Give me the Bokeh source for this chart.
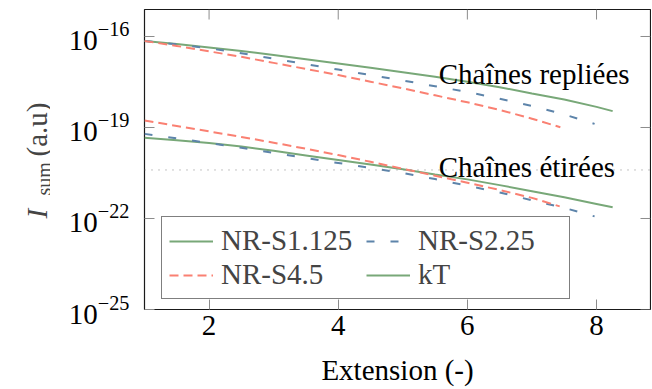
import math
from bokeh.plotting import figure
from bokeh.layouts import row
from bokeh.models import (FixedTicker, Span, Label, Legend, LegendItem, Range1d)
from bokeh.embed import file_html
from bokeh.resources import INLINE

# ---------------- data (x = extension, values = log10 of I_sum) ----------------
ext_top_g = [1.0, 1.5, 2.0, 2.5, 3.0, 3.5, 4.0, 4.5, 5.0, 5.5, 6.0, 6.5, 7.0, 7.5, 8.0, 8.25]
log_top_g = [-16.15, -16.25, -16.36, -16.48, -16.61, -16.75, -16.89, -17.03, -17.18,
             -17.33, -17.49, -17.67, -17.88, -18.08, -18.32, -18.46]

ext_top_b = [1.0, 1.5, 2.0, 2.5, 3.0, 3.5, 4.0, 4.5, 5.0, 5.5, 6.0, 6.5, 7.0, 7.5, 7.97]
log_top_b = [-16.15, -16.26, -16.39, -16.55, -16.73, -16.91, -17.09, -17.27, -17.45,
             -17.64, -17.83, -18.05, -18.29, -18.57, -18.88]

ext_top_r = [1.0, 1.5, 2.0, 2.5, 3.0, 3.5, 4.0, 4.5, 5.0, 5.5, 6.0, 6.5, 7.0, 7.44]
log_top_r = [-16.15, -16.31, -16.49, -16.67, -16.87, -17.07, -17.27, -17.49, -17.71,
             -17.94, -18.17, -18.42, -18.71, -18.99]

ext_low_g = [1.0, 1.5, 2.0, 2.5, 3.0, 3.5, 4.0, 4.5, 5.0, 5.5, 6.0, 6.5, 7.0, 7.5, 8.0, 8.25]
log_low_g = [-19.34, -19.42, -19.51, -19.63, -19.77, -19.92, -20.07, -20.22, -20.38,
             -20.55, -20.71, -20.90, -21.10, -21.30, -21.52, -21.63]

ext_low_b = [1.0, 1.5, 2.0, 2.5, 3.0, 3.5, 4.0, 4.5, 5.0, 5.5, 6.0, 6.5, 7.0, 7.5, 7.97]
log_low_b = [-19.21, -19.36, -19.51, -19.67, -19.84, -20.01, -20.17, -20.33, -20.50,
             -20.70, -20.92, -21.14, -21.40, -21.65, -21.93]

ext_low_r = [1.0, 1.5, 2.0, 2.5, 3.0, 3.5, 4.0, 4.5, 5.0, 5.5, 6.0, 6.5, 7.0, 7.43]
log_low_r = [-18.77, -18.95, -19.13, -19.31, -19.50, -19.70, -19.91, -20.13, -20.36,
             -20.59, -20.82, -21.06, -21.32, -21.60]

legend_labels = ["NR-S1.125", "NR-S2.25", "NR-S4.5", "kT"]
x_ticks = [2, 4, 6, 8]
y_tick_exps = [-25, -22, -19, -16]
threshold_exp = -20.4
text_top = "Chaînes repliées"
text_low = "Chaînes étirées"
x_title = "Extension (-)"
y_title_parts = ["I", "sum", "(a.u)"]

# ---------------- styling ----------------
GREEN = "#78a878"
BLUE = "#5d84aa"
RED = "#fa8072"
TICK = "#8c8c8c"
DASH_B = "8 16"
DASH_R = "9 5"
FONT = "Liberation Serif"
FS = "29px"
X0, X1 = 1.0, 8.836
Y0, Y1 = 1e-25, 10 ** -15.11
TOP, FRAME_H, BOTTOM = 9, 300, 78
TITLE_W = 50

def pw(vals):
    return [10.0 ** v for v in vals]

y_ticks = [10.0 ** e for e in y_tick_exps]

# ---------------- narrow figure holding the rotated y-axis title ----------------
t = figure(frame_width=TITLE_W, frame_height=FRAME_H, x_axis_type=None,
           y_axis_type=None, output_backend="svg", toolbar_location=None,
           min_border_left=0, min_border_right=0, min_border_top=TOP,
           min_border_bottom=BOTTOM, outline_line_color=None)
t.grid.visible = False
t.border_fill_color = "white"
t.background_fill_color = "white"
base_y = TOP + FRAME_H   # page y of the frame bottom
t.add_layout(Label(x=36, y=base_y - 218, x_units="screen", y_units="screen",
                   text=y_title_parts[0], angle=math.pi / 2, text_font=FONT,
                   text_font_size=FS, text_font_style="italic",
                   text_baseline="alphabetic"))
t.add_layout(Label(x=43, y=base_y - 195, x_units="screen", y_units="screen",
                   text=y_title_parts[1], angle=math.pi / 2, text_font=FONT,
                   text_font_size="20px", text_baseline="alphabetic"))
t.add_layout(Label(x=36, y=base_y - 156, x_units="screen", y_units="screen",
                   text=y_title_parts[2], angle=math.pi / 2, text_font=FONT,
                   text_font_size=FS, text_baseline="alphabetic"))

# ---------------- main figure ----------------
p = figure(frame_width=506, frame_height=FRAME_H, y_axis_type="log",
           x_range=Range1d(X0, X1), y_range=Range1d(Y0, Y1),
           output_backend="svg", toolbar_location=None,
           min_border_left=144 - TITLE_W, min_border_right=1, min_border_top=TOP,
           min_border_bottom=BOTTOM)
p.grid.visible = False
p.outline_line_color = "#1a1a1a"
p.outline_line_width = 1.2
p.background_fill_color = "white"
p.border_fill_color = "white"

xa = p.xaxis[0]
xa.ticker = FixedTicker(ticks=x_ticks, minor_ticks=[])
ya = p.yaxis[0]
ya.ticker = FixedTicker(ticks=y_ticks, minor_ticks=[])
for ax in (xa, ya):
    ax.axis_line_color = None
    ax.major_tick_in = 10
    ax.major_tick_out = 0
    ax.major_tick_line_color = TICK
    ax.major_tick_line_width = 1
    ax.minor_tick_line_color = None
    ax.major_label_text_font = FONT
    ax.major_label_text_font_size = FS
    ax.major_label_text_color = "black"
xa.major_label_standoff = 6
ya.major_label_standoff = 15
xa.axis_label = x_title
xa.axis_label_text_font = FONT
xa.axis_label_text_font_size = FS
xa.axis_label_text_font_style = "normal"
xa.axis_label_text_color = "black"
xa.axis_label_standoff = 16

# mirrored ticks on top and right edges (from tick lists)
p.ray(x=x_ticks, y=[Y1] * len(x_ticks), length=10, length_units="screen",
      angle=-math.pi / 2, line_color=TICK, line_width=1)
p.ray(x=[X1] * len(y_ticks), y=y_ticks, length=10, length_units="screen",
      angle=math.pi, line_color=TICK, line_width=1)

# threshold dotted line
p.add_layout(Span(location=10.0 ** threshold_exp, dimension="width",
                  line_color="#8a8a8a", line_width=1, line_dash="1 6"))

# curves
r_tg = p.line(ext_top_g, pw(log_top_g), line_color=GREEN, line_width=2)
r_tb = p.line(ext_top_b, pw(log_top_b), line_color=BLUE, line_width=2, line_dash=DASH_B)
r_tr = p.line(ext_top_r, pw(log_top_r), line_color=RED, line_width=2, line_dash=DASH_R)
r_lg = p.line(ext_low_g, pw(log_low_g), line_color=GREEN, line_width=2)
r_lb = p.line(ext_low_b, pw(log_low_b), line_color=BLUE, line_width=2, line_dash=DASH_B)
r_lr = p.line(ext_low_r, pw(log_low_r), line_color=RED, line_width=2, line_dash=DASH_R)

# annotations
p.add_layout(Label(x=5.556, y=10 ** -17.25, text=text_top, text_font=FONT,
                   text_font_size=FS, text_baseline="alphabetic", text_color="black"))
p.add_layout(Label(x=5.556, y=10 ** -20.31, text=text_low, text_font=FONT,
                   text_font_size=FS, text_baseline="alphabetic", text_color="black"))

# legend
items = [LegendItem(label=legend_labels[0], renderers=[r_tg]),
         LegendItem(label=legend_labels[1], renderers=[r_tb]),
         LegendItem(label=legend_labels[2], renderers=[r_tr]),
         LegendItem(label=legend_labels[3], renderers=[r_lg])]
leg = Legend(items=items, location=(17, 10), orientation="horizontal", ncols=2,
             label_text_font=FONT, label_text_font_size=FS, glyph_width=44,
             glyph_height=20, label_standoff=8, label_width=144, spacing=1,
             padding=7, margin=0, border_line_color="black", border_line_width=1,
             background_fill_alpha=1.0)
p.add_layout(leg, "center")

layout = row(t, p, spacing=0)
open("out.html", "w").write(file_html(layout, INLINE))
